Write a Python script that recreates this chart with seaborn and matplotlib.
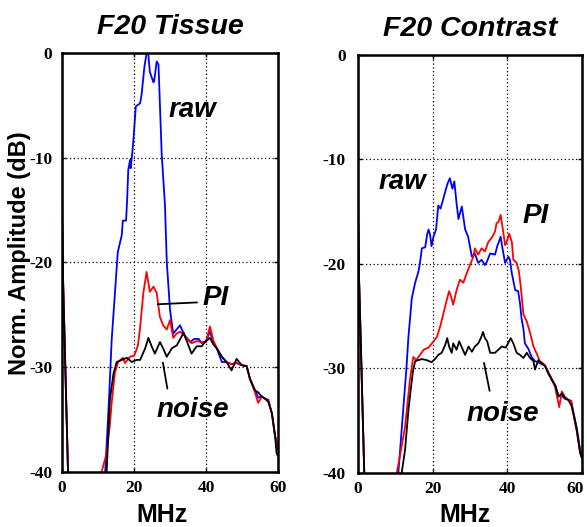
import matplotlib
matplotlib.use("Agg")
import matplotlib.pyplot as plt
import matplotlib.transforms as mtransforms
import seaborn as sns

# ---- F20 Tissue (left panel) ----
tissue_raw_f = [0, 0.25, 1.75, 11.5, 12, 13, 13.8, 15.5, 16.6, 16.9, 17.8, 18.1, 18.4, 18.9, 19.1,
                19.8, 20.5, 21.7, 22.1, 22.9, 23.5, 24.0, 24.4, 25.4, 25.6, 26.3, 26.8, 27.7, 28.6,
                29.1, 30.0, 30.9, 31.8, 32.8, 34.2, 35.6, 36.7, 38.0, 38.8, 40.0, 41.1, 42.0, 43.0,
                44.4, 45.7, 47.1, 48.5, 49.9, 51.3, 52.2, 53.6, 54.5, 55.5, 56.4, 57.3, 58.3, 59.2, 60]
tissue_raw_db = [-14.5, -21, -41, -41, -40, -33.5, -27.4, -19.0, -17.4, -16.0, -16.0, -14.0, -11.2, -10.2, -11.0,
                 -8.5, -5.1, -4.8, -4.0, -1.3, 0, -0.2, -1.8, -2.8, -2.7, -0.8, -1.1, -9.7, -14.5,
                 -19.9, -24.5, -26.8, -26.4, -26.0, -27.1, -27.6, -27.3, -27.3, -27.7, -27.5, -26.6, -27.6, -28.2,
                 -29.5, -29.5, -29.7, -29.6, -29.8, -29.9, -31.1, -32.2, -32.9, -32.8, -33.0, -33.1, -34.4, -36.6, -37.5]

tissue_pi_f = [0, 0.25, 1.75, 11, 12.4, 13.3, 13.8, 14.7, 15.6, 16.9, 17.5, 18.4, 18.9, 20.0, 20.5,
               21.1, 21.7, 22.6, 23.5, 24.4, 25.4, 26.3, 27.2, 28.1, 29.1, 30.0, 30.9, 31.8, 32.8,
               34.2, 36.0, 37.4, 38.8, 40.0, 41.1, 42.0, 43.0, 44.4, 45.7, 47.1, 48.5, 49.9, 51.3,
               52.2, 53.6, 54.5, 55.5, 56.4, 57.3, 58.3, 59.2, 60]
tissue_pi_db = [-12, -21, -41, -40, -38.2, -35.5, -33.4, -30.5, -29.5, -29.1, -29.6, -29.2, -29.0, -28.9, -28.5,
                -27.9, -26.2, -22.9, -20.9, -22.8, -22.3, -22.9, -25.2, -26.0, -26.4, -25.5, -27.2, -26.8, -26.6,
                -27.0, -27.7, -27.5, -27.6, -27.6, -26.1, -27.4, -28.2, -29.0, -29.5, -29.7, -29.6, -29.8, -29.9,
                -31.1, -32.4, -33.4, -32.8, -33.0, -33.2, -34.4, -36.6, -37.8]

tissue_noise_f = [0, 0.25, 1.75, 12, 12.4, 13.3, 14.3, 15.2, 16.6, 18.0, 19.4, 20.7, 21.7, 23.1, 24.0,
                  24.9, 25.8, 27.2, 28.1, 29.1, 30.5, 31.9, 33.8, 34.2, 36.0, 37.4, 38.8, 39.7, 41.1,
                  42.0, 43.0, 44.4, 45.7, 47.1, 48.5, 49.9, 51.3, 52.2, 53.6, 54.5, 55.5, 56.4, 57.3,
                  58.3, 59.2, 59.6, 60]
tissue_noise_db = [-15, -21, -41, -41, -40, -33.1, -30.6, -29.5, -29.3, -29.1, -29.5, -29.3, -29.3, -28.2, -27.2,
                   -28.0, -28.7, -27.6, -28.2, -29.0, -28.2, -27.9, -26.7, -27.1, -28.7, -28.0, -28.0, -27.6, -27.2,
                   -27.8, -28.2, -29.0, -29.5, -30.3, -29.2, -29.8, -29.9, -31.1, -32.2, -32.4, -32.8, -33.0, -33.3,
                   -34.4, -36.6, -38.2, -38.5]

# ---- F20 Contrast (right panel) ----
contrast_raw_f = [0, 0.25, 1.75, 10.5, 10.8, 13.0, 13.5, 14.4, 15.3, 16.2, 16.6, 17.1, 18.0, 18.5, 18.9,
                  19.3, 19.7, 20.2, 20.9, 21.5, 22.1, 22.9, 23.5, 24.0, 24.6, 25.3, 25.8, 26.4, 26.9,
                  27.8, 28.7, 29.5, 30.5, 31.3, 32.2, 33.1, 34.0, 34.5, 35.4, 36.7, 37.3, 38.2, 38.7,
                  39.4, 40.3, 40.7, 41.2, 42.1, 42.9, 43.4, 43.8, 44.3, 44.7, 45.6, 46.5, 47.4, 48.3,
                  49.2, 50.1, 51.0, 51.9, 52.8, 53.7, 54.6, 55.4, 56.3, 57.1, 57.7, 58.6, 59.5, 60]
contrast_raw_db = [-14.8, -21, -41, -41, -40, -29.8, -27.0, -23.3, -21.8, -20.7, -19.9, -18.5, -18.4, -17.2, -16.7,
                   -17.2, -18.3, -17.4, -16.7, -14.4, -14.7, -13.7, -12.9, -12.3, -11.8, -12.8, -12.1, -14.2, -15.7,
                   -14.5, -16.7, -17.4, -19.3, -19.0, -19.9, -19.6, -20.1, -19.8, -19.0, -19.1, -18.3, -17.4, -18.5,
                   -19.9, -19.3, -19.6, -20.9, -22.5, -22.6, -23.8, -25.2, -26.2, -27.6, -28.1, -28.9, -29.3, -29.4,
                   -29.6, -29.7, -30.4, -31.0, -31.6, -32.6, -32.6, -32.9, -33.0, -33.1, -34.2, -35.7, -37.8, -38.2]

contrast_pi_f = [0, 0.25, 1.75, 10.2, 10.4, 12.6, 13.9, 14.8, 15.6, 16.2, 17.6, 18.9, 19.8, 21.1, 22.0,
                 22.9, 23.8, 24.4, 24.9, 25.5, 26.4, 27.3, 28.2, 29.1, 30.0, 30.9, 31.3, 32.2, 33.1,
                 34.0, 34.9, 35.8, 36.7, 37.1, 37.6, 38.2, 38.8, 39.4, 39.8, 40.5, 41.2, 41.6, 42.5,
                 43.1, 43.6, 44.3, 45.2, 46.1, 47.0, 47.9, 48.8, 49.2, 50.1, 51.0, 51.9, 52.8, 53.9,
                 54.6, 55.4, 56.3, 57.1, 57.7, 58.6, 59.5, 60]
contrast_pi_db = [-12.1, -21, -41, -41, -40, -35.6, -31.1, -28.9, -29.2, -28.9, -28.2, -28.0, -27.6, -27.0, -26.0,
                  -24.7, -23.4, -22.6, -23.1, -23.9, -22.5, -21.5, -21.8, -20.9, -20.1, -19.3, -18.5, -19.1, -18.5,
                  -18.8, -17.9, -17.5, -16.9, -16.1, -16.0, -15.3, -16.7, -18.2, -17.9, -17.1, -17.9, -19.6, -19.9,
                  -20.7, -22.2, -24.8, -25.5, -26.6, -27.9, -28.6, -29.4, -29.4, -29.7, -30.4, -31.0, -31.8, -33.7,
                  -32.2, -32.7, -33.0, -33.1, -34.4, -36.0, -38.0, -38.6]

contrast_noise_f = [0, 0.25, 1.75, 11.5, 11.7, 12.6, 13.5, 14.1, 14.7, 15.3, 16.2, 17.1, 18.4, 19.7, 20.6,
                    21.5, 22.4, 23.3, 23.9, 24.4, 25.1, 25.5, 26.4, 27.1, 27.7, 28.7, 29.6, 30.5, 31.3,
                    32.2, 32.9, 33.5, 34.0, 34.6, 35.4, 36.7, 38.5, 39.6, 40.9, 41.6, 42.5, 43.4, 44.3,
                    45.2, 46.1, 47.0, 47.4, 48.3, 49.2, 50.1, 51.0, 51.9, 52.8, 53.7, 54.6, 55.4, 56.3,
                    57.1, 57.7, 58.6, 59.5, 60]
contrast_noise_db = [-15, -21, -41, -41, -40, -37.8, -34.0, -32.1, -30.3, -29.3, -29.2, -29.1, -29.2, -29.4, -29.1,
                     -28.7, -28.5, -27.8, -27.1, -27.9, -28.5, -27.6, -28.2, -27.4, -27.9, -28.7, -27.9, -28.4, -27.9,
                     -27.6, -27.1, -26.5, -27.1, -27.4, -28.5, -28.5, -27.9, -28.0, -27.1, -27.6, -28.5, -28.7, -29.0,
                     -28.5, -29.0, -29.3, -30.1, -29.2, -29.5, -29.8, -30.5, -31.1, -31.6, -32.7, -32.4, -32.8, -33.0,
                     -33.5, -34.3, -35.9, -38.1, -38.6]

panel_titles = ["F20 Tissue", "F20 Contrast"]
x_ticks = [0, 20, 40, 60]
y_ticks = [0, -10, -20, -30, -40]

sns.set_style("ticks")
plt.rcParams["font.family"] = ["Liberation Sans", "DejaVu Sans"]
plt.rcParams["text.color"] = "black"
plt.rcParams["xtick.color"] = "black"
plt.rcParams["ytick.color"] = "black"
plt.rcParams["axes.labelcolor"] = "black"

fig = plt.figure(figsize=(5.87, 5.27), dpi=100)
ax1 = fig.add_axes([0.1056, 0.1044, 0.368, 0.795])
ax2 = fig.add_axes([0.6099, 0.1025, 0.3816, 0.7932])

panels = [
    (ax1, tissue_raw_f, tissue_raw_db, tissue_pi_f, tissue_pi_db, tissue_noise_f, tissue_noise_db, 7),
    (ax2, contrast_raw_f, contrast_raw_db, contrast_pi_f, contrast_pi_db, contrast_noise_f, contrast_noise_db, 9),
]

for i, (ax, rf, rd, pf, pd_, nf, nd, ypad) in enumerate(panels):
    sns.lineplot(x=rf, y=rd, ax=ax, color="#0000FF", linewidth=1.3, estimator=None, sort=False)
    sns.lineplot(x=pf, y=pd_, ax=ax, color="#FF0000", linewidth=1.3, estimator=None, sort=False)
    sns.lineplot(x=nf, y=nd, ax=ax, color="black", linewidth=1.3, estimator=None, sort=False)

    ax.set_xlim(0, 60)
    ax.set_ylim(-40, 0)
    ax.set_xticks(x_ticks)
    ax.set_yticks(y_ticks)
    ax.set_xticklabels([str(t) for t in x_ticks], fontfamily="Liberation Serif", fontweight="bold",
                       fontsize=12.5, color="black")
    ax.set_yticklabels([str(t) for t in y_ticks], fontfamily="Liberation Serif", fontweight="bold",
                       fontsize=12.5, color="black")
    ax.tick_params(axis="both", direction="in", length=3, width=1, top=True, right=True, colors="black")
    ax.tick_params(axis="y", pad=ypad)
    ax.tick_params(axis="x", pad=6)
    ax.grid(True, color="black", linestyle=(0, (1, 2)), linewidth=0.9)
    for s in ax.spines.values():
        s.set_linewidth(1.8)
        s.set_color("black")
        s.set_visible(True)
    ax.set_xlabel("")
    ax.set_ylabel("")
    ax.set_title(panel_titles[i], fontsize=20.5, fontweight="bold", fontstyle="italic", pad=14,
                 color="black")

# the "60" on the right panel sits a little left of its tick, as in the original
last = ax2.get_xticklabels()[-1]
last.set_transform(last.get_transform() + mtransforms.ScaledTranslation(-7 / 100, 0, fig.dpi_scale_trans))

lab = dict(fontsize=20, fontweight="bold", fontstyle="italic", ha="center", va="center", color="black")
ax1.text(36.1, -5.4, "raw", **lab)
ax1.text(42.8, -23.4, "PI", **lab)
ax1.text(36.4, -34.1, "noise", **lab)
ax1.annotate("", xy=(25.8, -24.0), xytext=(38.3, -23.8),
             arrowprops=dict(arrowstyle="-", color="black", lw=1.3))
ax1.annotate("", xy=(27.9, -29.3), xytext=(29.4, -32.3),
             arrowprops=dict(arrowstyle="-", color="black", lw=1.3))

ax2.text(11.8, -12.2, "raw", **lab)
ax2.text(47.7, -15.4, "PI", **lab)
ax2.text(38.8, -34.4, "noise", **lab)
ax2.annotate("", xy=(33.6, -29.2), xytext=(35.4, -32.4),
             arrowprops=dict(arrowstyle="-", color="black", lw=1.3))

fig.text(20 / 587, 1 - 253 / 527, "Norm. Amplitude (dB)", rotation=90, fontsize=17,
         fontweight="bold", ha="center", va="center", color="black")
fig.text(162 / 587, 1 - 515 / 527, "MHz", fontsize=18, fontweight="bold", ha="center", va="center",
         color="black")
fig.text(465 / 587, 1 - 515 / 527, "MHz", fontsize=18, fontweight="bold", ha="center", va="center",
         color="black")

fig.savefig("out.png", dpi=100, facecolor="white")
